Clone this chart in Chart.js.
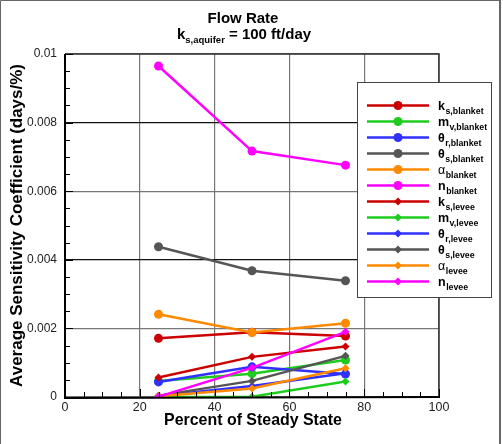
<!DOCTYPE html>
<html>
<head>
<meta charset="utf-8">
<script src="https://cdn.jsdelivr.net/npm/chart.js@4"></script>
<style>
html,body{margin:0;padding:0;background:#fff;}
#wrap{width:503px;height:444px;position:relative;}
</style>
</head>
<body>
<div id="wrap"><canvas id="c" width="503" height="444"></canvas></div>
<script>
// ---- data ----
const percentSteady = [25, 50, 75];
const ksBlanket     = [0.00171, 0.00189, 0.00178];
const mvBlanket     = [0.00047, 0.00068, 0.00108];
const thrBlanket    = [0.00044, 0.00088, 0.00067];
const thsBlanket    = [0.00438, 0.00368, 0.00339];
const alphaBlanket  = [0.00241, 0.00188, 0.00215];
const nBlanket      = [0.00965, 0.00717, 0.00676];
const ksLevee       = [0.00057, 0.00117, 0.00147];
const mvLevee       = [0.00000, 0.00001, 0.00045];
const thrLevee      = [0.00003, 0.00032, 0.00069];
const thsLevee      = [0.00004, 0.00047, 0.00120];
const alphaLevee    = [0.00002, 0.00025, 0.00084];
const nLevee        = [0.00001, 0.00085, 0.00190];

const xTickValues = [0, 20, 40, 60, 80, 100];
const yTickValues = [0, 0.002, 0.004, 0.006, 0.008, 0.01];

// legend labels: [main symbol, subscript]
const seriesLabels = [
  ['k','s,blanket'], ['m','v,blanket'], ['θ','r,blanket'], ['θ','s,blanket'], ['α','blanket'], ['n','blanket'],
  ['k','s,levee'], ['m','v,levee'], ['θ','r,levee'], ['θ','s,levee'], ['α','levee'], ['n','levee']
];
const seriesValues = [ksBlanket, mvBlanket, thrBlanket, thsBlanket, alphaBlanket, nBlanket,
                      ksLevee, mvLevee, thrLevee, thsLevee, alphaLevee, nLevee];
const palette = ['#cc0000', '#1ecc1e', '#3030ff', '#555555', '#ff8a00', '#ff00ff'];

const datasets = seriesValues.map((vals, i) => {
  const color = palette[i % 6];
  const levee = i >= 6;
  return {
    label: seriesLabels[i].join(''),
    data: percentSteady.map((x, j) => ({x: x, y: vals[j]})),
    order: seriesValues.length - i,
    borderColor: color,
    backgroundColor: color,
    borderWidth: 2.5,
    pointStyle: levee ? 'rectRot' : 'circle',
    pointRadius: levee ? 4 : 4.5,
    pointBorderWidth: 0,
    pointBackgroundColor: color,
    tension: 0
  };
});

const F = '"Liberation Sans", Arial, Helvetica, sans-serif';

function fitFont(ctx, text, target, weight) {
  ctx.font = weight + ' 20px ' + F;
  const w = ctx.measureText(text).width;
  return weight + ' ' + (20 * target / w).toFixed(2) + 'px ' + F;
}

const decor = {
  id: 'decor',
  beforeDraw(chart) {
    const ctx = chart.ctx;
    ctx.save();
    ctx.fillStyle = '#fff';
    ctx.fillRect(0, 0, chart.width, chart.height);
    ctx.restore();
  },
  afterDatasetsDraw(chart) {
    const ctx = chart.ctx;
    const xs = chart.scales.x, ys = chart.scales.y;
    const a = chart.chartArea;
    ctx.save();
    ctx.strokeStyle = '#000';
    ctx.lineWidth = 2;
    ctx.beginPath();
    ctx.moveTo(a.left, a.top); ctx.lineTo(a.left, a.bottom + 1); ctx.lineTo(a.right + 1, a.bottom);
    ctx.stroke();
    ctx.lineWidth = 1.5;
    ctx.strokeStyle = '#333';
    ctx.beginPath();
    ctx.moveTo(a.left, a.top); ctx.lineTo(a.right, a.top); ctx.lineTo(a.right, a.bottom);
    ctx.stroke();
    ctx.strokeStyle = '#000';
    ctx.lineWidth = 1;
    ctx.beginPath();
    for (let v = 0; v <= 100; v += 5) {
      const px = Math.round(xs.getPixelForValue(v)) + 0.5;
      const len = (v % 20 === 0) ? 8 : 5;
      ctx.moveTo(px, a.bottom); ctx.lineTo(px, a.bottom - len);
    }
    for (let k = 0; k <= 20; k++) {
      const v = k * 0.0005;
      const py = Math.round(ys.getPixelForValue(v)) + 0.5;
      const len = (k % 4 === 0) ? 8 : 5;
      ctx.moveTo(a.left, py); ctx.lineTo(a.left + len, py);
    }
    ctx.stroke();
    ctx.restore();
  },
  afterDraw(chart) {
    const ctx = chart.ctx;
    const a = chart.chartArea;
    ctx.save();
    ctx.fillStyle = '#000';
    ctx.textBaseline = 'alphabetic';
    ctx.textAlign = 'center';
    ctx.font = fitFont(ctx, 'Flow Rate', 71, 'bold');
    ctx.fillText('Flow Rate', 243, 23);
    // second title line with subscript
    const p1 = 'k', sub = 's,aquifer', p2 = ' = 100 ft/day';
    const mainF = 'bold 15px ' + F, subF = 'bold 9.5px ' + F;
    ctx.font = mainF; const w1 = ctx.measureText(p1).width; const w3 = ctx.measureText(p2).width;
    ctx.font = subF; const w2 = ctx.measureText(sub).width;
    let x0 = 244 - (w1 + w2 + w3) / 2;
    ctx.textAlign = 'left';
    ctx.font = mainF; ctx.fillText(p1, x0, 39);
    ctx.font = subF; ctx.fillText(sub, x0 + w1, 43);
    ctx.font = mainF; ctx.fillText(p2, x0 + w1 + w2, 39);
    // axis titles
    ctx.textAlign = 'center';
    const xt = 'Percent of Steady State';
    ctx.font = fitFont(ctx, xt, 178, 'bold');
    ctx.fillText(xt, 253, 425);
    const yt = 'Average Sensitivity Coefficient (days/%)';
    ctx.save();
    ctx.translate(22, (a.top + a.bottom) / 2);
    ctx.rotate(-Math.PI / 2);
    ctx.font = fitFont(ctx, yt, 323, 'bold');
    ctx.fillText(yt, 0, 0);
    ctx.restore();
    // legend
    const lx = 357.5, ly = 82.5, lw = 134, lh = 215;
    ctx.fillStyle = '#fff';
    ctx.fillRect(lx, ly, lw, lh);
    ctx.strokeStyle = '#444';
    ctx.lineWidth = 1;
    ctx.strokeRect(lx, ly, lw, lh);
    chart.data.datasets.forEach((ds, i) => {
      const y = 105.5 + 16 * i;
      ctx.strokeStyle = ds.borderColor;
      ctx.lineWidth = 2.5;
      ctx.beginPath(); ctx.moveTo(367, y); ctx.lineTo(429, y); ctx.stroke();
      ctx.fillStyle = ds.borderColor;
      ctx.beginPath();
      if (ds.pointStyle === 'circle') {
        ctx.arc(398, y, 4.5, 0, Math.PI * 2);
      } else {
        ctx.moveTo(398, y - 4); ctx.lineTo(402, y); ctx.lineTo(398, y + 4); ctx.lineTo(394, y);
        ctx.closePath();
      }
      ctx.fill();
      const [m, s] = seriesLabels[i];
      ctx.fillStyle = '#000';
      ctx.textAlign = 'left';
      ctx.textBaseline = 'alphabetic';
      ctx.font = (m === 'α' ? '12.5px ' : 'bold 12.5px ') + F;
      ctx.fillText(m, 438, y + 4.5);
      const mw = ctx.measureText(m).width;
      ctx.font = 'bold 8.8px ' + F;
      ctx.fillText(s, 438 + mw + 0.5, y + 8);
    });
    // frame
    ctx.strokeStyle = '#666';
    ctx.lineWidth = 1;
    ctx.beginPath();
    ctx.moveTo(0.5, 444); ctx.lineTo(0.5, 0.5); ctx.lineTo(500, 0.5);
    ctx.stroke();
    ctx.lineWidth = 2;
    ctx.beginPath();
    ctx.moveTo(500, 0); ctx.lineTo(500, 444);
    ctx.stroke();
    ctx.restore();
  }
};

new Chart(document.getElementById('c'), {
  type: 'line',
  data: { datasets: datasets },
  plugins: [decor],
  options: {
    responsive: false,
    animation: false,
    devicePixelRatio: 1,
    layout: { padding: { left: 0, right: 64, top: 54, bottom: 0 } },
    plugins: { legend: { display: false }, title: { display: false }, tooltip: { enabled: false } },
    scales: {
      x: {
        type: 'linear', min: 0, max: 100,
        afterFit: s => { s.height = 47; },
        afterBuildTicks: s => { s.ticks = xTickValues.map(v => ({value: v})); },
        grid: { drawTicks: false, color: '#777', lineWidth: 1.2 },
        border: { display: false },
        ticks: { color: '#222', font: { family: F, size: 12.5 }, padding: 3, maxRotation: 0 }
      },
      y: {
        type: 'linear', min: 0, max: 0.01,
        afterFit: s => { s.width = 65; },
        afterBuildTicks: s => { s.ticks = yTickValues.map(v => ({value: v})); },
        grid: {
          drawTicks: false,
          color: c => (Math.abs(c.tick.value - 0.004) < 1e-9 || Math.abs(c.tick.value - 0.008) < 1e-9) ? '#111' : '#777',
          lineWidth: 1.2
        },
        border: { display: false },
        ticks: {
          color: '#222', font: { family: F, size: 12 }, padding: 8,
          callback: v => String(+v.toFixed(4))
        }
      }
    }
  }
});
</script>
</body>
</html>
